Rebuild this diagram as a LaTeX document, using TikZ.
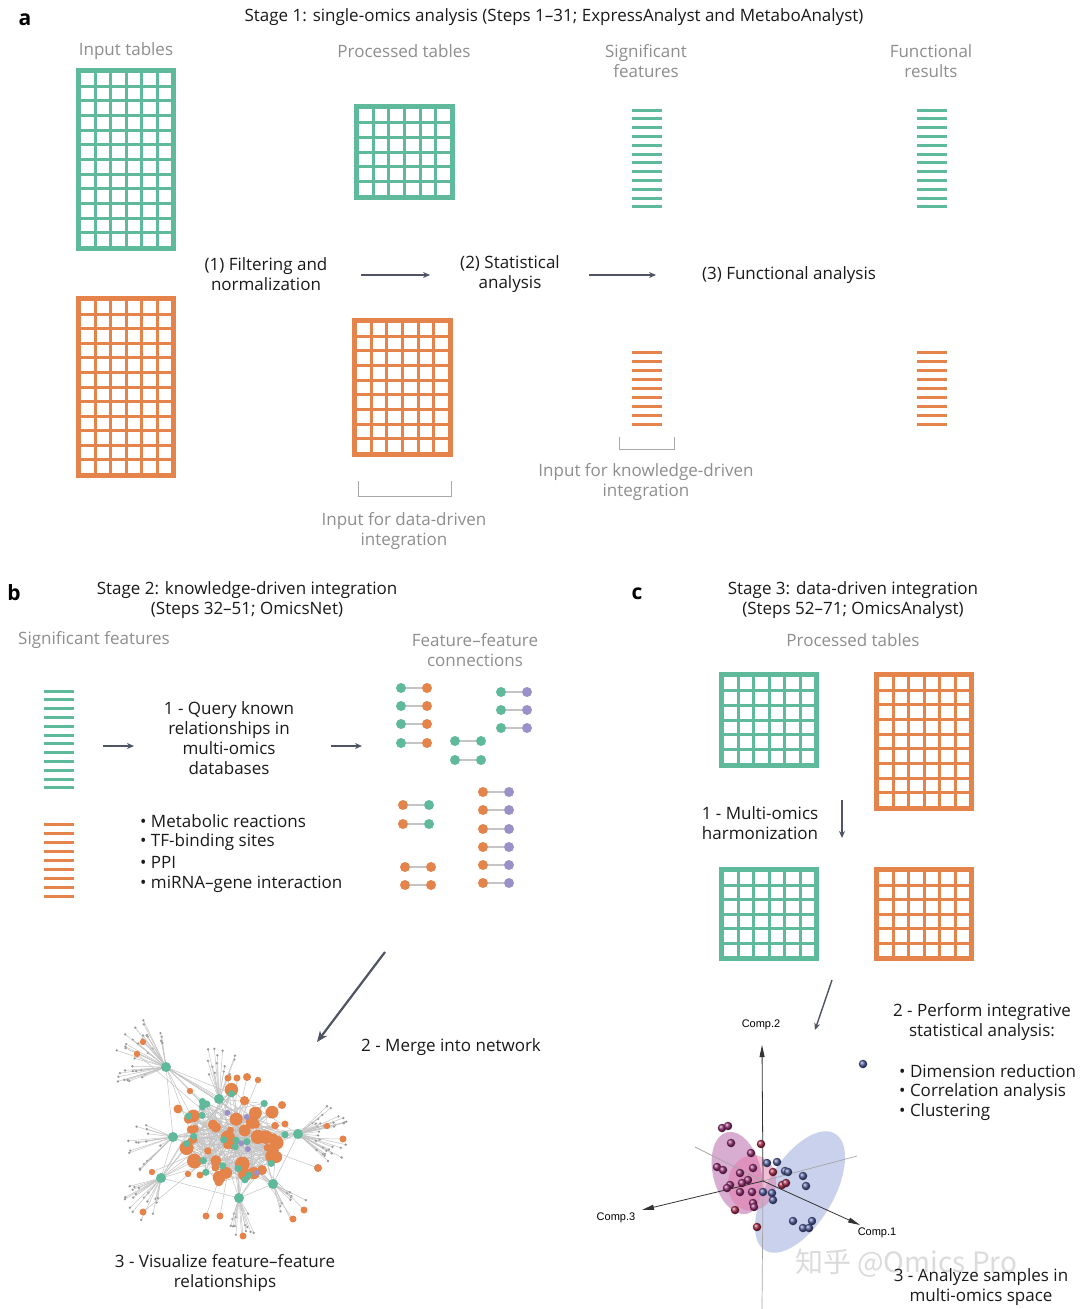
\documentclass[tikz,border=0pt]{standalone}
\usepackage{fontspec}
\setmainfont{Open Sans}
\newfontfamily\cjk{Noto Sans CJK SC}
\newfontfamily\plotfont{Liberation Sans}
\usetikzlibrary{arrows.meta,calc}
\definecolor{omgreen}{HTML}{5FB99B}
\definecolor{omorange}{HTML}{E4834A}
\definecolor{ompurple}{HTML}{9B91C9}
\definecolor{omgrey}{HTML}{8E8E8E}
\definecolor{omtext}{HTML}{1A1A1A}
\definecolor{omarrow}{HTML}{4E5463}
\definecolor{edgegrey}{HTML}{C4C4C4}
\definecolor{leafgrey}{HTML}{9A9A9A}
\definecolor{bracketgrey}{HTML}{A8A8A8}
\definecolor{sphpurple}{HTML}{8E2D6E}
\definecolor{sphred}{HTML}{A52A4A}
\definecolor{sphblue}{HTML}{4D5A98}
\definecolor{ellblue}{HTML}{B3BEE4}
\definecolor{ellpink}{HTML}{C98BC0}
\definecolor{ellmag}{HTML}{E36FA3}

\newcommand\omtable[8]{%
  \fill[#8] (#2,#3) rectangle (#4,#5);
  \coordinate (#1) at ({(#2+#4)/2},{(#3+#5)/2});
  \pgfmathsetmacro\omcw{((#4-#2)-10-(#6-1)*3)/#6}
  \pgfmathsetmacro\omch{((#5-#3)-10-(#7-1)*3)/#7}
  \foreach \ci in {1,...,#6}{\foreach \cj in {1,...,#7}{
    \fill[white] ({#2+5+(\ci-1)*(\omcw+3)},{#3+5+(\cj-1)*(\omch+3)}) rectangle +(\omcw,\omch);}}
}
\newcommand\omlist[7]{%
  \coordinate (#1) at ({(#2+#3)/2},{#4+(#5-1)*#6/2});
  \foreach \lk in {1,...,#5}{\draw[#7,line width=3pt] (#2,{#4+(\lk-1)*#6}) -- (#3,{#4+(\lk-1)*#6});}
}
\newcommand\dumb[6]{%
  \node[omdot,fill=#5] (#1a) at (#2,#4) {};
  \node[omdot,fill=#6] (#1b) at (#3,#4) {};
  \draw[edgegrey,line width=1.2pt] (#1a) -- (#1b);
}
\newcommand\fan[6]{%
  \foreach \fk in {1,...,#2}{
    \pgfmathsetmacro\fang{#3+rnd*(#4-#3)}
    \pgfmathsetmacro\fdd{#5+rnd*(#6-#5)}
    \draw[netedge] (#1) -- ++({\fdd*cos(\fang)},{-\fdd*sin(\fang)}) coordinate (leaftmp);
    \fill[leafgrey] (leaftmp) circle (1.3);
  }
}

\begin{document}
\begin{tikzpicture}[x=1pt,y=-1pt,
  every node/.style={inner sep=0pt},
  lbl/.style={font=\fontsize{17}{20}\selectfont, text=omtext, align=center},
  glbl/.style={font=\fontsize{17}{20}\selectfont, text=omgrey, align=center},
  panel/.style={font=\fontsize{21}{24}\selectfont\bfseries, text=black},
  flow/.style={omarrow, line width=1.4pt, -{Stealth[length=7pt,width=6pt]}},
  bigflow/.style={omarrow, line width=2.2pt, -{Stealth[length=11pt,width=9pt]}},
  omdot/.style={circle, minimum size=10pt, inner sep=0pt},
  netedge/.style={edgegrey, line width=0.5pt},
  bracket/.style={bracketgrey, line width=1pt},
  plotlbl/.style={font=\plotfont\fontsize{11}{13}\selectfont, text=black},
  axisgrey/.style={gray!70, line width=0.7pt},
  axisblack/.style={black!80, line width=0.8pt, -{Triangle[length=12pt,width=5pt]}},
  sph/.style={circle, minimum size=8.5pt, inner sep=0pt}
]
\fill[white] (0,0) rectangle (1080,1309);
\useasboundingbox (0,0) rectangle (1080,1309);

%================ Panel a ================
\node[panel] (pa) at (25,20) {a};
\node[lbl] (titlea) at (554,17) {Stage 1: single-omics analysis (Steps 1–31; ExpressAnalyst and MetaboAnalyst)};
\node[glbl] (hin) at (126,51) {Input tables};
\node[glbl] (hpr) at (404,51) {Processed tables};
\node[glbl] (hsg) at (646,61) {Significant\\features};
\node[glbl] (hfr) at (931,61) {Functional\\results};

\omtable{tin1}{76}{68}{176}{251}{6}{12}{omgreen}
\omtable{tin2}{76}{296}{176}{478}{6}{12}{omorange}
\omtable{tpr1}{354}{104}{455}{200}{6}{6}{omgreen}
\omtable{tpr2}{352}{318}{453}{457}{6}{9}{omorange}

\omlist{sg1}{632}{662}{110}{12}{8.8}{omgreen}
\omlist{sg2}{632}{662}{352}{9}{9.1}{omorange}
\omlist{fr1}{917}{947}{110}{12}{8.8}{omgreen}
\omlist{fr2}{917}{947}{352}{9}{9.1}{omorange}

\node[lbl] (step1) at (266,274) {(1) Filtering and\\normalization};
\node[lbl] (step2) at (510,274) {(2) Statistical\\analysis};
\node[lbl] (step3) at (789,275) {(3) Functional analysis};
\coordinate (a1s) at (361,275); \coordinate (a1e) at (430,275);
\coordinate (a2s) at (589,275); \coordinate (a2e) at (656,275);
\draw[flow] (a1s) -- (a1e);
\draw[flow] (a2s) -- (a2e);

\coordinate (br1a) at (358,481); \coordinate (br1b) at (451,481);
\draw[bracket] (br1a) -- ++(0,15) -| (br1b);
\coordinate (br2a) at (619,437); \coordinate (br2b) at (674,437);
\draw[bracket] (br2a) -- ++(0,12) -| (br2b);
\node[glbl] (indd) at (404,531) {Input for data-driven\\integration};
\node[glbl] (inkd) at (646,482) {Input for knowledge-driven\\integration};

%================ Panel b ================
\node[panel] (pb) at (14,593) {b};
\node[lbl] (titleb) at (247,600) {Stage 2: knowledge-driven integration\\(Steps 32–51; OmicsNet)};
\node[glbl] (hbsg) at (94,640) {Significant features};
\node[glbl] (hbff) at (475,650) {Feature–feature\\connections};

\omlist{bl1}{44}{74}{691}{12}{8.8}{omgreen}
\omlist{bl2}{44}{74}{824}{9}{9}{omorange}

\node[lbl] (query) at (229,738) {1 - Query known\\relationships in\\multi-omics\\databases};
\coordinate (b1s) at (103,746); \coordinate (b1e) at (134,746);
\coordinate (b2s) at (331,746); \coordinate (b2e) at (362,746);
\draw[flow] (b1s) -- (b1e);
\draw[flow] (b2s) -- (b2e);

\node[lbl, anchor=west] (bul1) at (140,821) {• Metabolic reactions};
\node[lbl, anchor=west] (bul2) at (140,842) {• TF-binding sites};
\node[lbl, anchor=west] (bul3) at (140,862) {• PPI};
\node[lbl, anchor=west] (bul4) at (140,884) {• miRNA–gene interaction};

\dumb{go1}{401}{427}{688}{omgreen}{omorange}
\dumb{go2}{401}{427}{706}{omgreen}{omorange}
\dumb{go3}{401}{427}{724}{omgreen}{omorange}
\dumb{go4}{401}{427}{743}{omgreen}{omorange}
\dumb{gp1}{501}{527}{692}{omgreen}{ompurple}
\dumb{gp2}{501}{527}{710}{omgreen}{ompurple}
\dumb{gp3}{501}{527}{728}{omgreen}{ompurple}
\dumb{gg1}{455}{481}{741}{omgreen}{omgreen}
\dumb{gg2}{455}{481}{760}{omgreen}{omgreen}
\dumb{og1}{403}{429}{805}{omorange}{omgreen}
\dumb{og2}{403}{429}{824}{omorange}{omgreen}
\dumb{oo1}{405}{431}{867}{omorange}{omorange}
\dumb{oo2}{405}{431}{885}{omorange}{omorange}
\dumb{op1}{483}{509}{792}{omorange}{ompurple}
\dumb{op2}{483}{509}{810}{omorange}{ompurple}
\dumb{op3}{483}{509}{829}{omorange}{ompurple}
\dumb{op4}{483}{509}{847}{omorange}{ompurple}
\dumb{op5}{483}{509}{865}{omorange}{ompurple}
\dumb{op6}{483}{509}{883}{omorange}{ompurple}

\coordinate (mgs) at (385,952); \coordinate (mge) at (317,1042);
\draw[bigflow] (mgs) -- (mge);
\node[lbl, anchor=west] (merge) at (361,1047) {2 - Merge into network};

% ---- network ----
\pgfmathsetseed{4242}
\coordinate (net) at (234,1137);
\foreach \i in {1,...,70}{
  \pgfmathsetmacro\cang{rnd*360}
  \pgfmathsetmacro\crad{3+sqrt(rnd)*50}
  \coordinate (c\i) at ({234+\crad*cos(\cang)},{1137+0.9*\crad*sin(\cang)});
}
\coordinate (h1) at (166,1067);
\coordinate (h2) at (298,1134);
\coordinate (h3) at (173,1137);
\coordinate (h4) at (161,1178);
\coordinate (h5) at (239,1198);
\coordinate (h6) at (219,1099);
\coordinate (h7) at (273,1184);
\fan{h1}{36}{95}{205}{22}{55}
\fan{h2}{34}{-45}{45}{18}{50}
\fan{h3}{16}{150}{230}{15}{48}
\fan{h4}{18}{190}{262}{15}{48}
\fan{h5}{14}{250}{300}{15}{45}
\fan{h6}{14}{62}{118}{25}{52}
\fan{h7}{10}{285}{340}{14}{40}
\foreach \i in {1,...,70}{
  \pgfmathsetmacro\ja{int(random(1,70))}
  \pgfmathsetmacro\jb{int(random(1,70))}
  \pgfmathsetmacro\jc{int(random(1,70))}
  \draw[netedge] (c\i) -- (c\ja) (c\i) -- (c\jb) (c\i) -- (c\jc);
}
\foreach \h in {1,...,7}{
  \foreach \t in {1,...,8}{
    \pgfmathsetmacro\ja{int(random(1,70))}
    \draw[netedge] (h\h) -- (c\ja);
  }
}
\draw[netedge] (h1) -- (h3) (h3) -- (h4) (h2) -- (h7) (h4) -- (h5) (h5) -- (h7) (h1) -- (h6);
% orange leaves
\foreach \p/\q/\r in {143/1042/3.2, 137/1054/3.2, 143/1212/3.5, 206/1216/3.5, 220/1216/3.5, 243/1236/3.5, 293/1219/3.5, 304/1210/3.5, 318/1168/4, 343/1139/3.5, 327/1126/3.2, 282/1105/4, 285/1124/3.5, 178/1109/4.5, 190/1091/3.2, 258/1080/3.2, 247/1077/4, 152/1172/3.2, 228/1078/3.5, 237/1078/3.5, 262/1170/5, 200/1175/3.5, 188/1174/3.2}{
  \coordinate (ol) at (\p,\q);
  \draw[netedge] (ol) -- (net);
  \fill[omorange] (ol) circle (\r);
}
% cluster nodes
\foreach \i in {1,...,70}{
  \pgfmathsetmacro\rr{3.2+rnd*4.3}
  \ifnum\i<45
    \fill[omorange] (c\i) circle (\rr);
  \else\ifnum\i<66
    \fill[omgreen] (c\i) circle (3.6);
  \else
    \fill[ompurple] (c\i) circle (3);
  \fi\fi
}
\foreach \h in {1,...,7}{\fill[omgreen] (h\h) circle (5);}

\node[lbl] (visual) at (225,1273) {3 - Visualize feature–feature\\relationships};

%================ Panel c ================
\node[panel] (pc) at (637,594) {c};
\node[lbl] (titlec) at (853,600) {Stage 3: data-driven integration\\(Steps 52–71; OmicsAnalyst)};
\node[glbl] (hcpr) at (853,640) {Processed tables};

\omtable{tc1}{719}{672}{819}{768}{6}{6}{omgreen}
\omtable{tc2}{874}{672}{974}{811}{6}{9}{omorange}
\omtable{tc3}{719}{867}{819}{961}{6}{6}{omgreen}
\omtable{tc4}{874}{867}{974}{961}{6}{6}{omorange}

\node[lbl] (harm) at (760,823) {1 - Multi-omics\\harmonization};
\coordinate (c1s) at (842,800); \coordinate (c1e) at (842,838);
\draw[flow] (c1s) -- (c1e);
\coordinate (c2s) at (832,980); \coordinate (c2e) at (815,1030);
\draw[flow] (c2s) -- (c2e);

\node[lbl] (perform) at (982,1022) {2 - Perform integrative\\statistical analysis:};
\node[lbl, anchor=west] (cb1) at (899,1071) {• Dimension reduction};
\node[lbl, anchor=west] (cb2) at (899,1092) {• Correlation analysis};
\node[lbl, anchor=west] (cb3) at (899,1112) {• Clustering};

% ---- 3D score plot ----
\coordinate (org) at (763,1181);
\fill[ellblue, opacity=0.7] (800,1192) ellipse [x radius=68pt, y radius=33pt, rotate=59];
\fill[ellpink, opacity=0.7] (737,1173) ellipse [x radius=42pt, y radius=24pt, rotate=104];
\fill[ellmag, opacity=0.45] (752,1183) ellipse [x radius=28pt, y radius=24pt, rotate=80];
\coordinate (ax2top) at (762,1045);
\coordinate (ax2bot) at (762,1309);
\coordinate (ax3tip) at (642,1210);
\coordinate (ax1tip) at (860,1225);
\coordinate (ax1neg) at (695,1147);
\coordinate (ax3neg) at (857,1156);
\draw[axisgrey] (ax2bot) -- (org);
\draw[axisgrey] (ax1neg) -- (org);
\draw[axisgrey] (ax3neg) -- (org);
\draw[axisblack] (org) -- (ax2top);
\draw[axisblack] (org) -- (ax3tip);
\draw[axisblack] (org) -- (ax1tip);
\node[plotlbl] (comp2) at (761,1025) {Comp.2};
\node[plotlbl] (comp3) at (616,1218) {Comp.3};
\node[plotlbl] (comp1) at (877,1233) {Comp.1};

\foreach \p/\q [count=\n] in {722/1128, 728/1126, 731/1143, 751/1153, 717/1167, 723/1170, 740/1173, 753/1168, 748/1180, 742/1183, 730/1185, 727/1188, 740/1192, 752/1192, 753/1203, 754/1207}{
  \node[sph, ball color=sphpurple] (pp\n) at (\p,\q) {};
}
\foreach \p/\q [count=\n] in {761/1144, 735/1210, 757/1227, 773/1172, 782/1185, 786/1183}{
  \node[sph, ball color=sphred] (pr\n) at (\p,\q) {};
}
\foreach \p/\q [count=\n] in {863/1064, 767/1163, 777/1162, 785/1171, 788/1172, 803/1176, 806/1186, 763/1192, 773/1200, 772/1193, 793/1221, 812/1221, 803/1228, 809/1228}{
  \node[sph, ball color=sphblue] (pb\n) at (\p,\q) {};
}

\node[font=\cjk\fontsize{28}{30}\selectfont, text=gray!35, opacity=0.8, anchor=west] (wm) at (795,1263) {知乎 @Omics Pro};
\node[lbl] (analyze) at (981,1287) {3 - Analyze samples in\\multi-omics space};
\end{tikzpicture}
\end{document}
